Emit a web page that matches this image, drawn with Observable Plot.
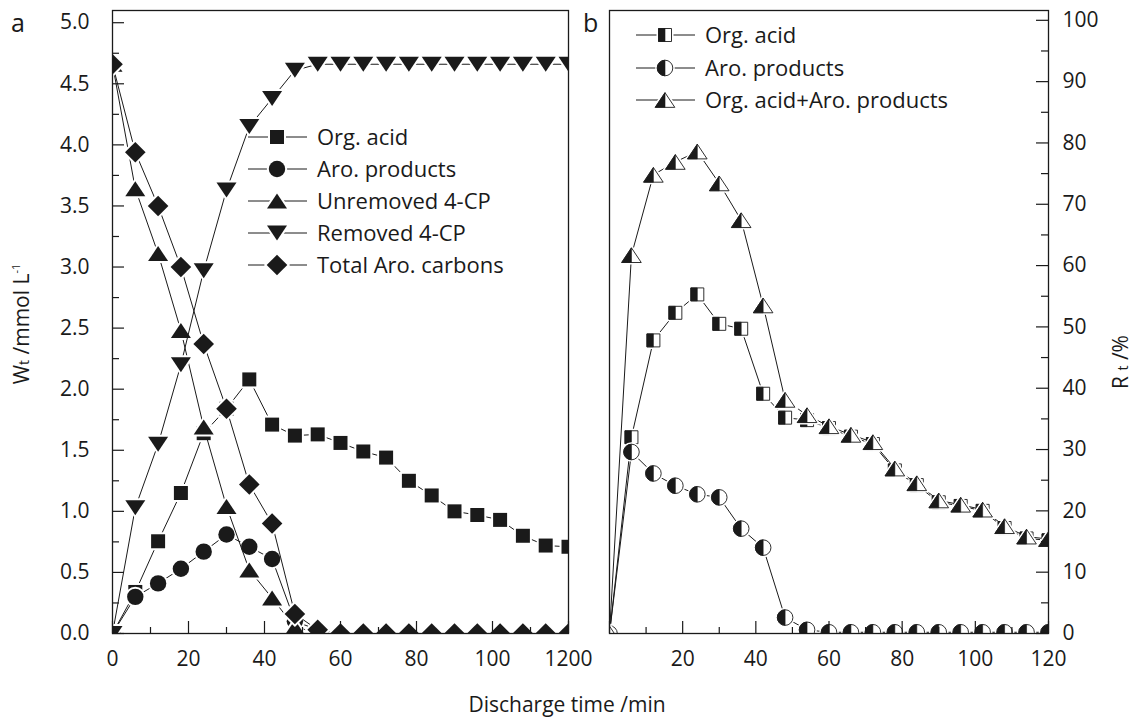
<!DOCTYPE html>
<html><head><meta charset="utf-8">
<script src="https://cdn.jsdelivr.net/npm/d3@7"></script>
<script src="https://cdn.jsdelivr.net/npm/@observablehq/plot@0.6"></script>
<style>
body{margin:0;background:#fff;overflow:hidden;}
#wrap{position:relative;width:1141px;height:718px;font-family:"Open Sans",sans-serif;}
#wrap svg{position:absolute;top:0;}
</style></head><body><div id="wrap"></div>
<script>
// ---------- data ----------
const time = [0,6,12,18,24,30,36,42,48,54,60,66,72,78,84,90,96,102,108,114,120];

// panel a: W_t (mmol/L)
const wOrgAcid   = [0,0.34,0.755,1.15,1.64,1.84,2.08,1.71,1.62,1.63,1.56,1.49,1.44,1.25,1.13,1.00,0.97,0.93,0.80,0.72,0.71];
const wAro       = [0,0.30,0.41,0.53,0.67,0.81,0.71,0.61,0.10,0.03,0,0,0,0,0,0,0,0,0,0,0];
const wUnremoved = [4.66,3.64,3.11,2.48,1.69,1.04,0.52,0.29,0.05,0.01,0,0,0,0,0,0,0,0,0,0,0];
const wRemoved   = [0,1.03,1.55,2.20,2.97,3.63,4.15,4.38,4.61,4.66,4.66,4.66,4.66,4.66,4.66,4.66,4.66,4.66,4.66,4.66,4.66];
const wTotalAro  = [4.66,3.94,3.50,3.00,2.37,1.84,1.22,0.90,0.16,0.03,0,0,0,0,0,0,0,0,0,0,0];

// panel b: R_t (%)
const rOrgAcid = [0,32.0,47.8,52.3,55.3,50.5,49.7,39.1,35.2,34.8,33.5,32.1,30.9,26.6,24.2,21.4,20.8,20.0,17.2,15.5,15.2];
const rAro     = [0,29.6,26.1,24.1,22.7,22.2,17.1,14.0,2.6,0.6,0.2,0.2,0.2,0.2,0.2,0.2,0.2,0.2,0.2,0.2,0.2];
const rSum     = [0,61.7,74.8,76.9,78.6,73.4,67.4,53.5,38.1,35.6,33.8,32.4,31.2,26.9,24.5,21.7,21.0,20.2,17.5,15.8,15.4];

const namesA = ["Org. acid","Aro. products","Unremoved 4-CP","Removed 4-CP","Total Aro. carbons"];
const namesB = ["Org. acid","Aro. products","Org. acid+Aro. products"];

// ticks
const xMajor = [0,20,40,60,80,100,120];
const xMinor = [10,30,50,70,90,110];
const xLabelsA = ["0","20","40","60","80","100","1200"];
const xLabelsB = ["","20","40","60","80","100","120"];
const yMajorA = [0,0.5,1,1.5,2,2.5,3,3.5,4,4.5,5];
const yLabelsA = ["0.0","0.5","1.0","1.5","2.0","2.5","3.0","3.5","4.0","4.5","5.0"];
const yMinorA = [0.25,0.75,1.25,1.75,2.25,2.75,3.25,3.75,4.25,4.75];
const yMajorB = [0,10,20,30,40,50,60,70,80,90,100];
const yLabelsB = ["0","10","20","30","40","50","60","70","80","90","100"];
const yMinorB = [5,15,25,35,45,55,65,75,85,95];

// ---------- symbols ----------
const FONT = '"Open Sans", sans-serif';
const INK = "#1a1a1a";
function sym(fn){ return {draw(c,size){ fn(c, Math.sqrt(size/Math.PI)); }}; }
const TRI = 1.5;
const shapes = {
  square:  sym((c,h)=>{c.rect(-h,-h,2*h,2*h);}),
  circle:  sym((c,h)=>{c.moveTo(h,0);c.arc(0,0,h,0,2*Math.PI);c.closePath();}),
  triUp:   sym((c,h)=>{const H=h*TRI/2;c.moveTo(0,-H);c.lineTo(h,H);c.lineTo(-h,H);c.closePath();}),
  triDown: sym((c,h)=>{const H=h*TRI/2;c.moveTo(0,H);c.lineTo(h,-H);c.lineTo(-h,-H);c.closePath();}),
  diamond: sym((c,h)=>{c.moveTo(0,-h);c.lineTo(h,0);c.lineTo(0,h);c.lineTo(-h,0);c.closePath();}),
  squareL: sym((c,h)=>{c.rect(-h,-h,h,2*h);}),
  circleL: sym((c,h)=>{c.moveTo(0,-h);c.arc(0,0,h,-Math.PI/2,Math.PI/2,true);c.closePath();}),
  triUpL:  sym((c,h)=>{const H=h*TRI/2;c.moveTo(0,-H);c.lineTo(0,H);c.lineTo(-h,H);c.closePath();})
};

const seriesA = [
  {name:namesA[0], values:wOrgAcid,   shape:"square",  r:7},
  {name:namesA[1], values:wAro,       shape:"circle",  r:8.2},
  {name:namesA[2], values:wUnremoved, shape:"triUp",   r:10},
  {name:namesA[3], values:wRemoved,   shape:"triDown", r:10},
  {name:namesA[4], values:wTotalAro,  shape:"diamond", r:10.3}
];
const seriesB = [
  {name:namesB[0], values:rOrgAcid, shape:"square", half:"squareL", r:6.5},
  {name:namesB[1], values:rAro,     shape:"circle", half:"circleL", r:7.8},
  {name:namesB[2], values:rSum,     shape:"triUp",  half:"triUpL",  r:9.8}
];
const rows = s => time.map((t,i)=>({t, v:s.values[i]}));

function seriesMarks(list, halfFilled){
  const m = [];
  for (const s of list){
    const d = rows(s);
    m.push(Plot.line(d,{x:"t",y:"v",stroke:INK,strokeWidth:1,clip:true}));
    m.push(Plot.dot(d,{x:"t",y:"v",symbol:shapes[s.shape],r:s.r,fill:"white",stroke:"white",strokeWidth:4,clip:true}));
    if (halfFilled){
      m.push(Plot.dot(d,{x:"t",y:"v",symbol:shapes[s.shape],r:s.r,fill:"white",stroke:INK,strokeWidth:0.9,clip:true}));
      m.push(Plot.dot(d,{x:"t",y:"v",symbol:shapes[s.half],r:s.r,fill:INK,stroke:INK,strokeWidth:0.6,clip:true}));
    } else {
      m.push(Plot.dot(d,{x:"t",y:"v",symbol:shapes[s.shape],r:s.r,fill:INK,stroke:"none",clip:true}));
    }
  }
  return m;
}

// ---------- panel a ----------
const HA = 718, WA = 590, mlA = 112, mrA = 22, mt = 10, mb = 85;
const innerWA = WA-mlA-mrA, innerH = HA-mt-mb;
const plotA = Plot.plot({
  width:WA, height:HA, marginLeft:mlA, marginRight:mrA, marginTop:mt, marginBottom:mb,
  style:{background:"none", overflow:"visible", fontFamily:FONT, fontSize:"21px", color:INK},
  x:{domain:[0,120], ticks:xMajor, tickFormat:d=>xLabelsA[xMajor.indexOf(d)], tickSize:0, tickPadding:18, label:null},
  y:{domain:[0,5.1], ticks:yMajorA, tickFormat:d=>yLabelsA[yMajorA.indexOf(d)], tickSize:0, tickPadding:23, label:null},
  marks:[
    ...seriesMarks(seriesA,false),
    Plot.tickX(xMajor,{x:d=>d,insetTop:innerH-12,stroke:INK,strokeWidth:1.2}),
    Plot.tickX(xMinor,{x:d=>d,insetTop:innerH-6,stroke:INK,strokeWidth:1.2}),
    Plot.tickY(yMajorA,{y:d=>d,insetRight:innerWA-12,stroke:INK,strokeWidth:1.2}),
    Plot.tickY(yMinorA,{y:d=>d,insetRight:innerWA-7,stroke:INK,strokeWidth:1.2}),
    Plot.frame({stroke:INK,strokeWidth:1.3})
  ]
});

// ---------- panel b ----------
const WB = 561, mlB = 29, mrB = 93;
const innerWB = WB-mlB-mrB;
const plotB = Plot.plot({
  width:WB, height:HA, marginLeft:mlB, marginRight:mrB, marginTop:mt, marginBottom:mb,
  style:{background:"none", overflow:"visible", fontFamily:FONT, fontSize:"21px", color:INK},
  x:{domain:[0,120], ticks:xMajor, tickFormat:d=>xLabelsB[xMajor.indexOf(d)], tickSize:0, tickPadding:18, label:null},
  y:{domain:[0,101.6], axis:"right", ticks:yMajorB, tickFormat:d=>yLabelsB[yMajorB.indexOf(d)], tickSize:0, tickPadding:14, label:null},
  marks:[
    ...seriesMarks(seriesB,true),
    Plot.tickX(xMajor,{x:d=>d,insetTop:innerH-12,stroke:INK,strokeWidth:1.2}),
    Plot.tickX(xMinor,{x:d=>d,insetTop:innerH-6,stroke:INK,strokeWidth:1.2}),
    Plot.tickY(yMajorB,{y:d=>d,insetLeft:innerWB-12,stroke:INK,strokeWidth:1.2}),
    Plot.tickY(yMinorB,{y:d=>d,insetLeft:innerWB-7,stroke:INK,strokeWidth:1.2}),
    Plot.frame({stroke:INK,strokeWidth:1.3})
  ]
});

const wrap = document.getElementById("wrap");
plotA.style.left = "0px";
plotB.style.left = "580px";
wrap.appendChild(plotA);
wrap.appendChild(plotB);

// ---------- annotations & legends ----------
const sa = d3.select(plotA), sb = d3.select(plotB);
function legend(svg, list, x0, ys, half){
  list.forEach((s,i)=>{
    const g = svg.append("g").attr("transform",`translate(0,${ys[i]})`);
    g.append("line").attr("x1",x0).attr("x2",x0+59).attr("y1",0).attr("y2",0).attr("stroke",INK).attr("stroke-width",1);
    const cx = x0+29;
    const p = d3.symbol().type(shapes[s.shape]).size(Math.PI*s.r*s.r)();
    g.append("path").attr("d",p).attr("transform",`translate(${cx},0)`)
      .attr("fill","white").attr("stroke","white").attr("stroke-width",4);
    g.append("path").attr("d",p).attr("transform",`translate(${cx},0)`)
      .attr("fill",half?"white":INK).attr("stroke",half?INK:"none").attr("stroke-width",0.9);
    if (half){
      const ph = d3.symbol().type(shapes[s.half]).size(Math.PI*s.r*s.r)();
      g.append("path").attr("d",ph).attr("transform",`translate(${cx},0)`).attr("fill",INK).attr("stroke",INK).attr("stroke-width",0.6);
    }
    g.append("text").attr("x",x0+69).attr("y",0).attr("dy","0.36em").attr("text-anchor","start")
      .attr("font-size",22).attr("font-family",FONT).attr("fill",INK).text(s.name);
  });
}
legend(sa, seriesA, 248, [137,169,201,233,265], false);
legend(sb, seriesB, 56, [35,68,100], true);

// panel letters
sa.append("text").attr("x",11).attr("y",32).attr("text-anchor","start").attr("font-size",25).attr("font-family",FONT).attr("fill",INK).text("a");
sb.append("text").attr("x",3).attr("y",32).attr("text-anchor","start").attr("font-size",25).attr("font-family",FONT).attr("fill",INK).text("b");

// x title
sa.append("text").attr("x",567).attr("y",712).attr("text-anchor","middle")
  .attr("font-size",21).attr("font-family",FONT).attr("fill",INK).text("Discharge time /min");

// y title left
const tl = sa.append("text").attr("transform","translate(29,324) rotate(-90)").attr("text-anchor","middle")
  .attr("font-size",21).attr("font-family",FONT).attr("fill",INK);
tl.append("tspan").text("W");
tl.append("tspan").attr("font-size",14).text("t");
tl.append("tspan").text(" /mmol L");
tl.append("tspan").attr("font-size",11).attr("dy",-9).text("-1");

// y title right
const tr = sb.append("text").attr("transform","translate(548,362) rotate(-90)").attr("text-anchor","middle")
  .attr("font-size",21).attr("font-family",FONT).attr("fill",INK);
tr.append("tspan").text("R ");
tr.append("tspan").attr("font-size",14).text("t");
tr.append("tspan").text(" /%");
</script></body></html>
